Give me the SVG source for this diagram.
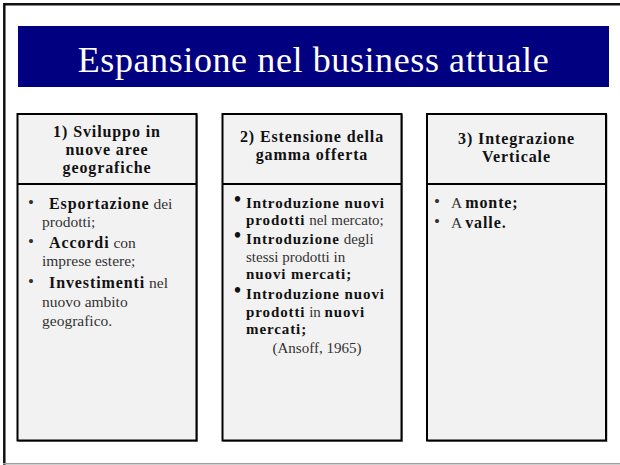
<svg xmlns="http://www.w3.org/2000/svg" width="620" height="465" viewBox="0 0 620 465" font-family="'Liberation Serif', 'DejaVu Serif', serif">
<style>
.frame{fill:none;stroke:#111;stroke-width:2.5}
.box{fill:#f2f2f2;stroke:#000;stroke-width:2}
.shadow{fill:none;stroke:#9a9a9a;stroke-width:1}
.div{stroke:#000;stroke-width:2}
text{font-family:'Liberation Serif','DejaVu Serif',serif}
.title{font-size:36px;fill:#fff;letter-spacing:0.6px}
.hd{font-size:16px;font-weight:bold;fill:#111;letter-spacing:0.9px}
.t{font-size:15.5px;fill:#333}
.b{font-weight:bold;fill:#111;font-size:16px;letter-spacing:0.9px}
.t2{font-size:15px;fill:#333}
.b2{font-weight:bold;fill:#111;letter-spacing:0.9px}
.bul{font-size:17px;fill:#333}
.bul2{font-size:20px;fill:#111;font-weight:bold}
</style>
<rect width="620" height="465" fill="#fff"/>
<path class="frame" d="M4.3,465 V4.3 H620"/>
<line x1="3" y1="463.8" x2="620" y2="463.8" stroke="#a0a0a0" stroke-width="1.5"/>

<g id="title">
<rect x="18" y="26" width="591" height="61" fill="#000080"/>
<text class="title" x="313.5" y="72" text-anchor="middle">Espansione nel business attuale</text>
</g>

<g id="box1">
<rect class="shadow" x="18.5" y="115" width="179" height="326.5"/>
<rect class="box" x="17.5" y="114" width="179" height="326.5"/>
<line class="div" x1="17.5" y1="184" x2="196.5" y2="184"/>
<text class="hd" text-anchor="middle"><tspan x="107" y="137">1) Sviluppo in</tspan><tspan x="107" y="155">nuove aree</tspan><tspan x="107" y="173">geografiche</tspan></text>
<text class="bul" x="28" y="208">•</text>
<text class="t" x="49" y="209"><tspan class="b">Esportazione</tspan> dei</text>
<text class="t" x="42" y="227">prodotti;</text>
<text class="bul" x="28" y="247">•</text>
<text class="t" x="49" y="248"><tspan class="b">Accordi</tspan> con</text>
<text class="t" x="42" y="266">imprese estere;</text>
<text class="bul" x="28" y="287">•</text>
<text class="t" x="49" y="288"><tspan class="b">Investimenti</tspan> nel</text>
<text class="t" x="42" y="307">nuovo ambito</text>
<text class="t" x="42" y="326">geografico.</text>
</g>

<g id="box2">
<rect class="shadow" x="223.5" y="115" width="179" height="326.5"/>
<rect class="box" x="222.5" y="114" width="179" height="326.5"/>
<line class="div" x1="222.5" y1="184" x2="401.5" y2="184"/>
<text class="hd" text-anchor="middle"><tspan x="312" y="142">2) Estensione della</tspan><tspan x="312" y="160">gamma offerta</tspan></text>
<text class="bul2" x="234" y="206">•</text>
<text class="t2" x="246" y="207.5"><tspan class="b2">Introduzione nuovi</tspan></text>
<text class="t2" x="246" y="225"><tspan class="b2">prodotti</tspan> nel mercato;</text>
<text class="bul2" x="234" y="242">•</text>
<text class="t2" x="246" y="243.5"><tspan class="b2">Introduzione</tspan> degli</text>
<text class="t2" x="246" y="261.5">stessi prodotti in</text>
<text class="t2" x="246" y="278.5"><tspan class="b2">nuovi mercati;</tspan></text>
<text class="bul2" x="234" y="297">•</text>
<text class="t2" x="246" y="298.5"><tspan class="b2">Introduzione nuovi</tspan></text>
<text class="t2" x="246" y="316.5"><tspan class="b2">prodotti</tspan> in <tspan class="b2">nuovi</tspan></text>
<text class="t2" x="246" y="333.5"><tspan class="b2">mercati;</tspan></text>
<text class="t2" x="317" y="353" text-anchor="middle">(Ansoff, 1965)</text>
</g>

<g id="box3">
<rect class="shadow" x="428" y="115" width="179" height="326.5"/>
<rect class="box" x="427" y="114" width="179" height="326.5"/>
<line class="div" x1="427" y1="184" x2="606" y2="184"/>
<text class="hd" text-anchor="middle"><tspan x="516.5" y="144">3) Integrazione</tspan><tspan x="516.5" y="162">Verticale</tspan></text>
<text class="bul" x="434" y="207">•</text>
<text class="t" x="451" y="208">A <tspan class="b">monte;</tspan></text>
<text class="bul" x="434" y="227">•</text>
<text class="t" x="451" y="228">A <tspan class="b">valle.</tspan></text>
</g>

<g id="connectors"/>
</svg>
